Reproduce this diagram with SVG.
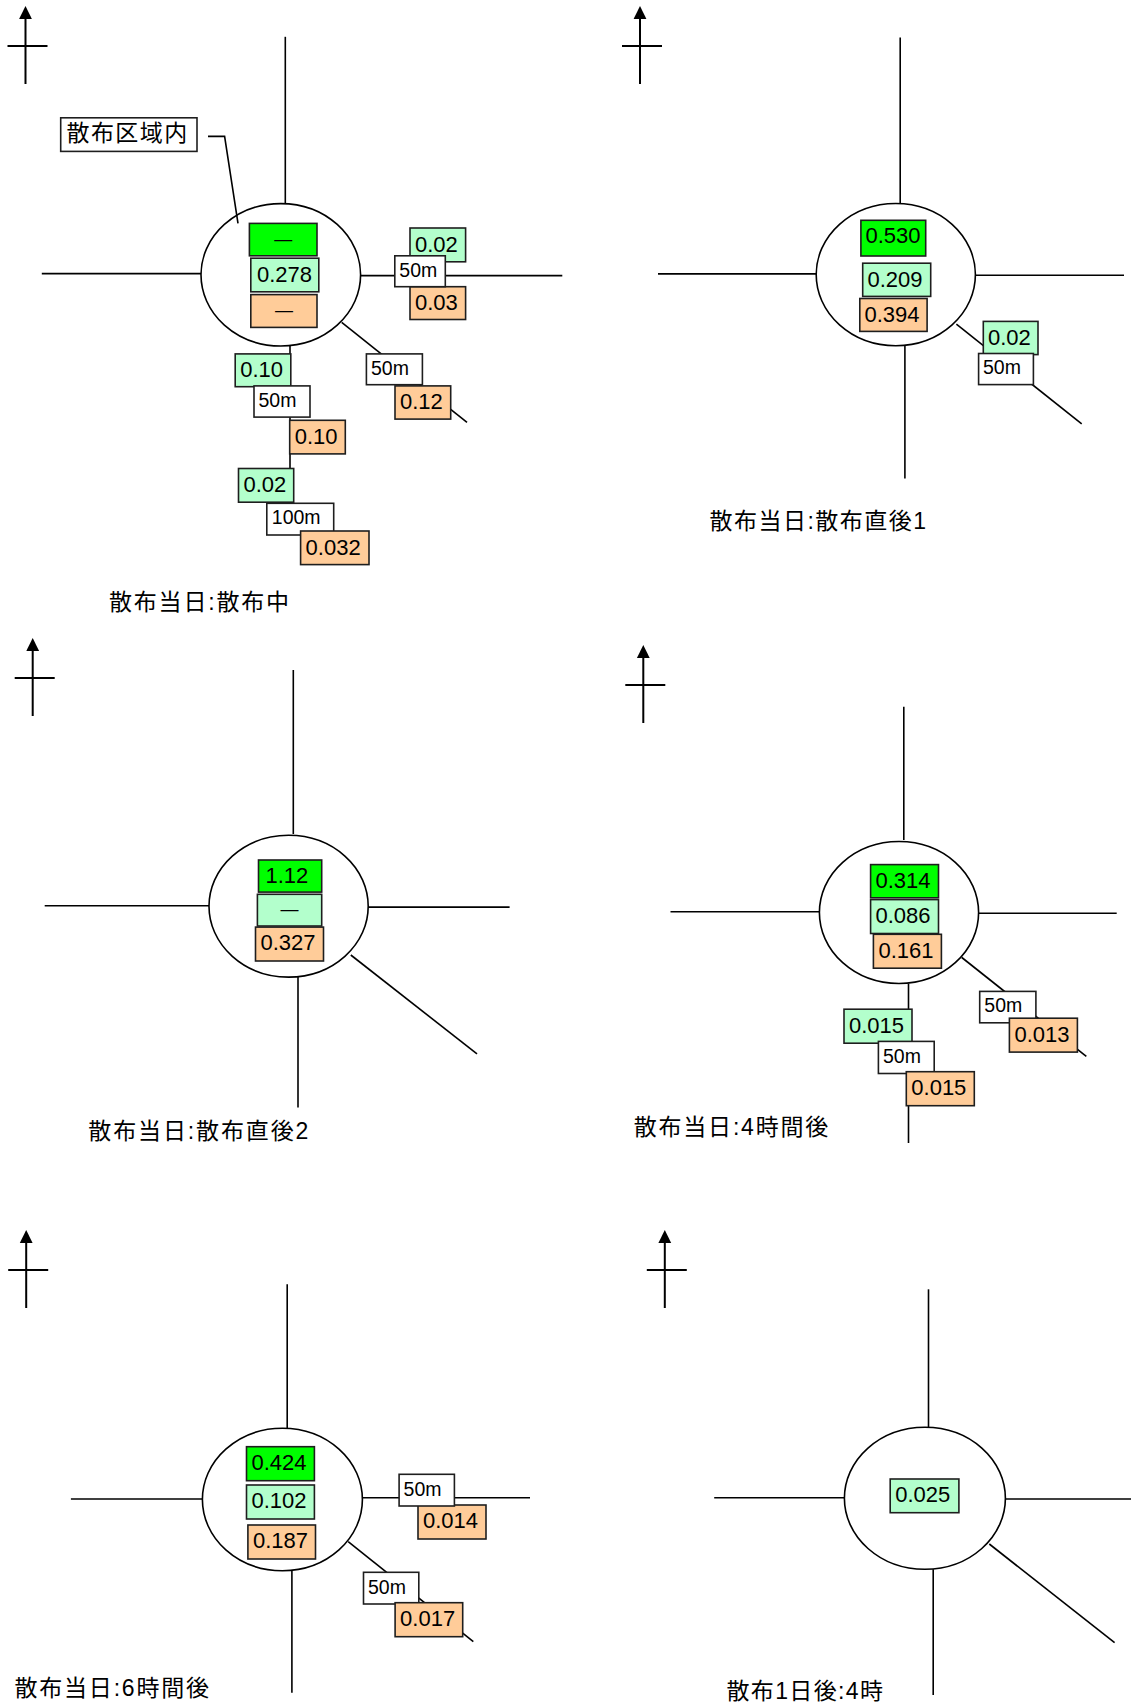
<svg xmlns="http://www.w3.org/2000/svg" width="1131" height="1706" viewBox="0 0 1131 1706">
<style>
.road{stroke:#000;stroke-width:1.6;fill:none}
.circ{stroke:#000;stroke-width:1.6;fill:none}
.bx{stroke:#1e1e1e;stroke-width:1.6}
.g1{fill:#00FF00}
.g2{fill:#B3FFCC}
.or{fill:#FFCC99}
.wh{fill:#FFFFFF}
.n{font-family:"Liberation Sans",Arial,sans-serif;font-size:22px;fill:#000}
.d{font-family:"Liberation Sans",Arial,sans-serif;font-size:19.5px;fill:#000}
.dash{font-family:"Liberation Sans",Arial,sans-serif;font-size:18px;fill:#000;text-anchor:middle}
.cap{font-family:"Liberation Sans","Noto Sans CJK JP",sans-serif;font-size:23px;fill:#000}
.na{stroke:#000;stroke-width:2;fill:none}
</style>
<defs>
<g id="north">
<path class="na" d="M0,-28 V38 M-18,0 H22"/>
<polygon points="0,-40 -6.4,-27 6.4,-27" fill="#000"/>
</g>
</defs>

<g id="connectors">
<!-- panel 1 -->
<path class="road" d="M285.3,36.8 V203"/>
<path class="road" d="M41.8,273.6 H201"/>
<path class="road" d="M360.6,275.6 H562.3"/>
<path class="road" d="M290,346 V505"/>
<path class="road" d="M341.7,322.3 L467,422.3"/>
<path class="road" d="M208,136.4 H224.6 L238,223.4"/>
<!-- panel 2 -->
<path class="road" d="M900.2,37.5 V203"/>
<path class="road" d="M658,273.9 H816.2"/>
<path class="road" d="M975.4,275.3 H1124"/>
<path class="road" d="M904.9,345.7 V478.5"/>
<path class="road" d="M956.4,324.2 L1081.7,423.9"/>
<!-- panel 3 -->
<path class="road" d="M293.3,670 V834"/>
<path class="road" d="M44.7,905.7 H209"/>
<path class="road" d="M368.2,907.1 H509.6"/>
<path class="road" d="M298,977 V1107.4"/>
<path class="road" d="M350.8,955 L477,1053.9"/>
<!-- panel 4 -->
<path class="road" d="M903.8,706.8 V840"/>
<path class="road" d="M670.5,911.8 H819.4"/>
<path class="road" d="M978.6,913.2 H1116.7"/>
<path class="road" d="M908.5,983.5 V1143"/>
<path class="road" d="M961.8,957.5 L1086.3,1056.4"/>
<!-- panel 5 -->
<path class="road" d="M287.2,1284.3 V1428"/>
<path class="road" d="M70.9,1499 H202.5"/>
<path class="road" d="M362.4,1497.7 H530"/>
<path class="road" d="M291.9,1570.7 V1692.7"/>
<path class="road" d="M348.2,1541.7 L473.3,1641.7"/>
<!-- panel 6 -->
<path class="road" d="M928.5,1289.3 V1427"/>
<path class="road" d="M714.2,1497.7 H844.4"/>
<path class="road" d="M1005.4,1499 H1131"/>
<path class="road" d="M933.2,1569.3 V1695"/>
<path class="road" d="M989.3,1544 L1114.6,1642.7"/>
</g>

<!-- ===== Panel 1 ===== -->
<g id="panel1">
<use href="#north" x="25.5" y="46"/>
<ellipse id="p1-area" class="circ" cx="280.8" cy="274.8" rx="79.8" ry="71.2"/>
<g id="p1-label"><rect class="bx wh" x="60.7" y="117.8" width="136.3" height="33.6"/><text class="cap" x="66.5" y="141" textLength="120.7" lengthAdjust="spacing">散布区域内</text></g>
<g id="p1-c1"><rect class="bx g1" x="249.4" y="223.4" width="67.6" height="32.4"/><text class="dash" x="283.2" y="244.5">—</text></g>
<g id="p1-c2"><rect class="bx g2" x="250.8" y="258.2" width="68" height="33.6"/><text class="n" x="257" y="281.5">0.278</text></g>
<g id="p1-c3"><rect class="bx or" x="250.8" y="294.6" width="66.2" height="32.8"/><text class="dash" x="283.9" y="315.5">—</text></g>
<g id="p1-e1"><rect class="bx g2" x="410" y="228" width="55.6" height="33.8"/><text class="n" x="415" y="251.5">0.02</text></g>
<g id="p1-e3"><rect class="bx or" x="410" y="286.7" width="55.6" height="32.8"/><text class="n" x="415" y="310">0.03</text></g>
<g id="p1-e2"><rect class="bx wh" x="394.8" y="255.8" width="50.5" height="30.9"/><text class="d" x="399.3" y="276.7">50m</text></g>
<g id="p1-se1"><rect class="bx wh" x="366.4" y="353.9" width="56" height="30.8"/><text class="d" x="371" y="374.8">50m</text></g>
<g id="p1-se2"><rect class="bx or" x="395" y="385.9" width="55.7" height="33.2"/><text class="n" x="400" y="409.3">0.12</text></g>
<g id="p1-s1"><rect class="bx g2" x="235.2" y="353.9" width="55.6" height="32.8"/><text class="n" x="240.2" y="377.3">0.10</text></g>
<g id="p1-s2"><rect class="bx wh" x="254" y="385.9" width="56" height="31.2"/><text class="d" x="258.5" y="406.8">50m</text></g>
<g id="p1-s3"><rect class="bx or" x="289.7" y="420.3" width="55.6" height="33.6"/><text class="n" x="294.7" y="443.8">0.10</text></g>
<g id="p1-s4"><rect class="bx g2" x="238.5" y="468.5" width="55.2" height="33.7"/><text class="n" x="243.5" y="492">0.02</text></g>
<g id="p1-s5"><rect class="bx wh" x="266.8" y="503.3" width="66.9" height="31.7"/><text class="d" x="271.8" y="524.3">100m</text></g>
<g id="p1-s6"><rect class="bx or" x="300.6" y="531" width="68.4" height="33.6"/><text class="n" x="305.6" y="554.5">0.032</text></g>
<text id="p1-cap" class="cap" x="109" y="609.5" textLength="180" lengthAdjust="spacing">散布当日:散布中</text>
</g>

<!-- ===== Panel 2 ===== -->
<g id="panel2">
<use href="#north" x="640" y="46"/>
<ellipse id="p2-area" class="circ" cx="895.8" cy="274.6" rx="79.6" ry="71.1"/>
<g id="p2-c1"><rect class="bx g1" x="860.9" y="220.3" width="64.8" height="35.7"/><text class="n" x="865.5" y="243">0.530</text></g>
<g id="p2-c2"><rect class="bx g2" x="862.7" y="263.2" width="68" height="33.2"/><text class="n" x="867.5" y="286.5">0.209</text></g>
<g id="p2-c3"><rect class="bx or" x="859.8" y="298.5" width="67.3" height="32.9"/><text class="n" x="864.5" y="321.5">0.394</text></g>
<g id="p2-se1"><rect class="bx g2" x="983.3" y="321.4" width="54.7" height="33.2"/><text class="n" x="988" y="344.7">0.02</text></g>
<g id="p2-se2"><rect class="bx wh" x="978.6" y="353.5" width="54.8" height="31.1"/><text class="d" x="983" y="374.4">50m</text></g>
<text id="p2-cap" class="cap" x="709.5" y="529" textLength="216.5" lengthAdjust="spacing">散布当日:散布直後1</text>
</g>

<!-- ===== Panel 3 ===== -->
<g id="panel3">
<use href="#north" x="32.7" y="678"/>
<ellipse id="p3-area" class="circ" cx="288.6" cy="906.2" rx="79.6" ry="70.9"/>
<g id="p3-c1"><rect class="bx g1" x="258.5" y="860" width="63.2" height="32.1"/><text class="n" x="265.5" y="882.5">1.12</text></g>
<g id="p3-c2"><rect class="bx g2" x="257.4" y="894.3" width="64.3" height="31.7"/><text class="dash" x="289.6" y="915">—</text></g>
<g id="p3-c3"><rect class="bx or" x="255.5" y="927.1" width="68" height="33.9"/><text class="n" x="260.5" y="950.3">0.327</text></g>
<text id="p3-cap" class="cap" x="88.3" y="1139" textLength="220" lengthAdjust="spacing">散布当日:散布直後2</text>
</g>

<!-- ===== Panel 4 ===== -->
<g id="panel4">
<use href="#north" x="643.3" y="685"/>
<ellipse id="p4-area" class="circ" cx="899" cy="912.5" rx="79.6" ry="71"/>
<g id="p4-c1"><rect class="bx g1" x="870.6" y="864.6" width="67.9" height="33.2"/><text class="n" x="875.5" y="888">0.314</text></g>
<g id="p4-c2"><rect class="bx g2" x="870.6" y="899.6" width="67.9" height="33.9"/><text class="n" x="875.5" y="923">0.086</text></g>
<g id="p4-c3"><rect class="bx or" x="873.4" y="934.3" width="68" height="33.9"/><text class="n" x="878.5" y="957.7">0.161</text></g>
<g id="p4-s1"><rect class="bx g2" x="844" y="1009.2" width="68" height="34"/><text class="n" x="849" y="1032.6">0.015</text></g>
<g id="p4-s2"><rect class="bx wh" x="878.4" y="1041.4" width="55.8" height="32.1"/><text class="d" x="883" y="1062.6">50m</text></g>
<g id="p4-s3"><rect class="bx or" x="906.3" y="1071.7" width="68" height="34"/><text class="n" x="911.3" y="1095.1">0.015</text></g>
<g id="p4-se1"><rect class="bx wh" x="979.7" y="991.4" width="56.2" height="31.4"/><text class="d" x="984.3" y="1012.4">50m</text></g>
<g id="p4-se2"><rect class="bx or" x="1009.4" y="1018.2" width="68" height="33.9"/><text class="n" x="1014.4" y="1041.6">0.013</text></g>
<text id="p4-cap" class="cap" x="633.7" y="1135" textLength="194.6" lengthAdjust="spacing">散布当日:4時間後</text>
</g>

<!-- ===== Panel 5 ===== -->
<g id="panel5">
<use href="#north" x="26.2" y="1270"/>
<ellipse id="p5-area" class="circ" cx="282.4" cy="1499.5" rx="80" ry="71.2"/>
<g id="p5-c1"><rect class="bx g1" x="246.5" y="1446.7" width="67.9" height="34"/><text class="n" x="251.5" y="1470.1">0.424</text></g>
<g id="p5-c2"><rect class="bx g2" x="246.5" y="1485" width="67.9" height="34"/><text class="n" x="251.5" y="1508.4">0.102</text></g>
<g id="p5-c3"><rect class="bx or" x="247.9" y="1525" width="67.6" height="34"/><text class="n" x="252.9" y="1548.4">0.187</text></g>
<g id="p5-e2"><rect class="bx or" x="418" y="1505" width="68" height="34"/><text class="n" x="423" y="1528.4">0.014</text></g>
<g id="p5-e1"><rect class="bx wh" x="399.1" y="1474.3" width="55.3" height="31.7"/><text class="d" x="403.6" y="1495.5">50m</text></g>
<g id="p5-se1"><rect class="bx wh" x="363.5" y="1572.3" width="55.3" height="31.7"/><text class="d" x="368" y="1593.5">50m</text></g>
<g id="p5-se2"><rect class="bx or" x="395.1" y="1602.7" width="67.6" height="34"/><text class="n" x="400.1" y="1626.1">0.017</text></g>
<text id="p5-cap" class="cap" x="14.5" y="1696" textLength="194.5" lengthAdjust="spacing">散布当日:6時間後</text>
</g>

<!-- ===== Panel 6 ===== -->
<g id="panel6">
<use href="#north" x="664.8" y="1270"/>
<ellipse id="p6-area" class="circ" cx="924.9" cy="1498.3" rx="80.5" ry="71"/>
<g id="p6-c1"><rect class="bx g2" x="890.2" y="1479" width="68.7" height="33.7"/><text class="n" x="895.2" y="1502.4">0.025</text></g>
<text id="p6-cap" class="cap" x="726.4" y="1698.5" textLength="156.6" lengthAdjust="spacing">散布1日後:4時</text>
</g>
</svg>
